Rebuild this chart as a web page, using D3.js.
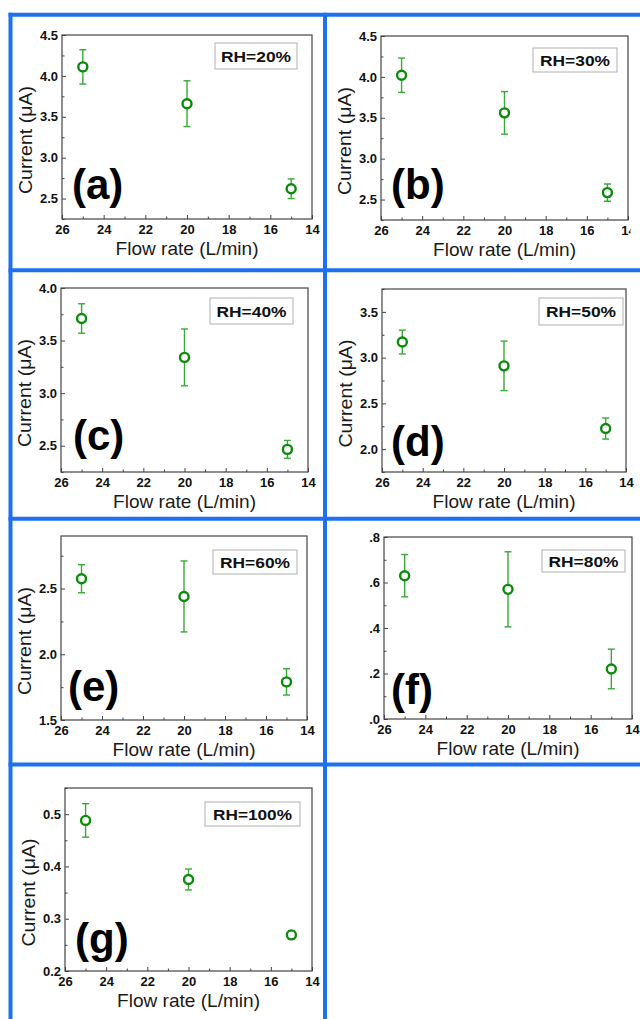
<!DOCTYPE html>
<html><head><meta charset="utf-8">
<script src="https://cdn.jsdelivr.net/npm/d3@7"></script>
<style>html,body{margin:0;padding:0;background:#fff;} svg{display:block;}</style>
</head><body>
<svg id="chart" width="640" height="1019"></svg>
<script>
// ---------------- data ----------------
const flowRate = [25, 20, 15];
const xTicks = [26, 24, 22, 20, 18, 16, 14];
const xMinorTicks = [25, 23, 21, 19, 17, 15];
const panelTags = ["(a)", "(b)", "(c)", "(d)", "(e)", "(f)", "(g)"];
const rhLabels = ["RH=20%", "RH=30%", "RH=40%", "RH=50%", "RH=60%", "RH=80%", "RH=100%"];

const currentA = [4.11, 3.66, 2.62];   const errorA = [0.21, 0.28, 0.12];
const currentB = [4.02, 3.56, 2.585];  const errorB = [0.21, 0.26, 0.105];
const currentC = [3.71, 3.34, 2.465];  const errorC = [0.14, 0.27, 0.085];
const currentD = [3.17, 2.91, 2.225];  const errorD = [0.13, 0.27, 0.115];
const currentE = [2.575, 2.44, 1.79];  const errorE = [0.107, 0.27, 0.10];
const currentF = [0.63, 0.57, 0.22];   const errorF = [0.093, 0.165, 0.087];
const currentG = [0.488, 0.375, 0.269]; const errorG = [0.032, 0.02, 0.008];

const yTicksA = [2.5, 3.0, 3.5, 4.0, 4.5];
const yTicksB = [2.5, 3.0, 3.5, 4.0, 4.5];
const yTicksC = [2.5, 3.0, 3.5, 4.0];
const yTicksD = [2.0, 2.5, 3.0, 3.5];
const yTicksE = [1.5, 2.0, 2.5];
const yTicksF = [0.0, 0.2, 0.4, 0.6, 0.8];
const yTickLabelsF = [".0", ".2", ".4", ".6", ".8"];
const yTicksG = [0.2, 0.3, 0.4, 0.5];

const xTitle = "Flow rate (L/min)";
const yTitle = "Current (\u03BCA)";

// ---------------- layout ----------------
const BLUE = "#1e70f0";
const GREEN = "#0b8a0b";
const ERRGREEN = "#3aa83a";
const FONT = "Arial, 'Liberation Sans', Helvetica, sans-serif";

const panels = [
  {cur: currentA, err: errorA, yt: yTicksA, frame: [62, 35, 312, 219], yDomain: [2.25, 4.5], minor: 0.25, legend: [215, 43, 82, 26], tag: [72, 199], yTitle: true, clipRight: null},
  {cur: currentB, err: errorB, yt: yTicksB, frame: [381, 36, 628, 220], yDomain: [2.25, 4.5], minor: 0.25, legend: [533, 48, 84, 24], tag: [391, 199], yTitle: true, clipRight: 630.5},
  {cur: currentC, err: errorC, yt: yTicksC, frame: [61, 288, 308, 472], yDomain: [2.25, 4.0], minor: 0.25, legend: [210, 298, 83, 26], tag: [73, 450], yTitle: true, clipRight: null},
  {cur: currentD, err: errorD, yt: yTicksD, frame: [382, 289, 626, 472], yDomain: [1.75, 3.75], minor: 0.25, legend: [539, 298, 84, 27], tag: [391, 456], yTitle: true, clipRight: null},
  {cur: currentE, err: errorE, yt: yTicksE, frame: [61, 536, 307, 720], yDomain: [1.5, 2.9], minor: 0.25, legend: [213, 550, 84, 24], tag: [68, 701], yTitle: true, clipRight: null},
  {cur: currentF, err: errorF, yt: yTicksF, ytl: yTickLabelsF, frame: [384, 537, 632, 719], yDomain: [0, 0.8], minor: 0.1, legend: [542, 550, 83, 22], tag: [391, 704], yTitle: false, clipRight: null},
  {cur: currentG, err: errorG, yt: yTicksG, frame: [65, 788, 312, 971], yDomain: [0.2, 0.55], minor: 0.05, legend: [205, 802, 95, 24], tag: [75, 953], yTitle: true, clipRight: null}
];

const svg = d3.select("#chart");
svg.append("rect").attr("width", 640).attr("height", 1019).attr("fill", "#fff");

const defs = svg.append("defs");

panels.forEach((p, i) => {
  const [x0, y0, x1, y1] = p.frame;
  let g = svg.append("g").attr("class", "panel");
  if (p.clipRight) {
    defs.append("clipPath").attr("id", "clip" + i)
      .append("rect").attr("x", 0).attr("y", 0).attr("width", p.clipRight).attr("height", 1019);
    g.attr("clip-path", `url(#clip${i})`);
  }
  const x = d3.scaleLinear().domain([26, 14]).range([x0, x1]);
  const y = d3.scaleLinear().domain(p.yDomain).range([y1, y0]);

  // frame
  g.append("rect").attr("x", x0).attr("y", y0).attr("width", x1 - x0).attr("height", y1 - y0)
    .attr("fill", "none").attr("stroke", "#444").attr("stroke-width", 1.2);

  // x axis major
  const xa = g.append("g").attr("transform", `translate(0,${y1})`)
    .call(d3.axisBottom(x).tickValues(xTicks).tickSizeInner(-4).tickSizeOuter(0).tickPadding(5.5).tickFormat(d3.format("d")));
  const xm = g.append("g").attr("transform", `translate(0,${y1})`)
    .call(d3.axisBottom(x).tickValues(xMinorTicks).tickSizeInner(-2.5).tickSizeOuter(0).tickFormat(""));
  // y axis
  const fmt = p.ytl ? (d => p.ytl[p.yt.indexOf(d)]) : d3.format(".1f");
  const ya = g.append("g").attr("transform", `translate(${x0},0)`)
    .call(d3.axisLeft(y).tickValues(p.yt).tickSizeInner(-4).tickSizeOuter(0).tickPadding(4).tickFormat(fmt));
  const minorVals = d3.range(Math.ceil(p.yDomain[0] / p.minor - 1e-6) * p.minor, p.yDomain[1] + 1e-9, p.minor)
    .filter(v => !p.yt.some(t => Math.abs(t - v) < 1e-6));
  const ym = g.append("g").attr("transform", `translate(${x0},0)`)
    .call(d3.axisLeft(y).tickValues(minorVals).tickSizeInner(-2.5).tickSizeOuter(0).tickFormat(""));

  [xa, xm, ya, ym].forEach(a => {
    a.select(".domain").remove();
    a.selectAll("line").attr("stroke", "#444").attr("stroke-width", 1);
    a.selectAll("text").attr("font-family", FONT).attr("font-size", 13).attr("font-weight", "bold").attr("fill", "#111");
  });

  // titles
  g.append("text").attr("x", (x0 + x1) / 2).attr("y", y1 + 35.5)
    .attr("text-anchor", "middle").attr("font-family", FONT).attr("font-size", 19).attr("fill", "#1a1a1a")
    .attr("textLength", 143).attr("lengthAdjust", "spacingAndGlyphs")
    .text(xTitle);
  if (p.yTitle) {
    const cy = (y0 + y1) / 2 + 13;
    g.append("text").attr("transform", `translate(${x0 - 30},${cy}) rotate(-90)`)
      .attr("text-anchor", "middle").attr("font-family", FONT).attr("font-size", 19).attr("fill", "#1a1a1a")
      .attr("textLength", 108).attr("lengthAdjust", "spacingAndGlyphs")
      .text(yTitle);
  }

  // legend box
  const [lx, ly, lw, lh] = p.legend;
  g.append("rect").attr("x", lx).attr("y", ly).attr("width", lw).attr("height", lh)
    .attr("fill", "#fff").attr("stroke", "#b0b0b0").attr("stroke-width", 1);
  const rhW = rhLabels[i].length > 6 ? 79 : 70;
  g.append("text").attr("x", lx + lw / 2).attr("y", ly + lh / 2 + 5.5)
    .attr("text-anchor", "middle").attr("font-family", FONT).attr("font-size", 15).attr("font-weight", "bold").attr("fill", "#111")
    .attr("textLength", rhW).attr("lengthAdjust", "spacingAndGlyphs")
    .text(rhLabels[i]);

  // panel tag
  g.append("text").attr("x", p.tag[0]).attr("y", p.tag[1])
    .attr("font-family", FONT).attr("font-size", 42).attr("font-weight", "bold").attr("fill", "#000")
    .text(panelTags[i]);

  // error bars
  const pts = flowRate.map((f, k) => ({f, v: p.cur[k], e: p.err[k]}));
  const eb = g.append("g").attr("stroke", ERRGREEN).attr("stroke-width", 1.4).attr("fill", "none");
  pts.forEach(d => {
    const cx = x(d.f);
    eb.append("line").attr("x1", cx).attr("x2", cx).attr("y1", y(d.v - d.e)).attr("y2", y(d.v + d.e));
    eb.append("line").attr("x1", cx - 3.5).attr("x2", cx + 3.5).attr("y1", y(d.v + d.e)).attr("y2", y(d.v + d.e));
    eb.append("line").attr("x1", cx - 3.5).attr("x2", cx + 3.5).attr("y1", y(d.v - d.e)).attr("y2", y(d.v - d.e));
  });
  g.append("g").selectAll("circle").data(pts).join("circle")
    .attr("cx", d => x(d.f)).attr("cy", d => y(d.v)).attr("r", 4.5)
    .attr("fill", "#fff").attr("stroke", GREEN).attr("stroke-width", 2.4);
});

// blue panel grid
const grid = svg.append("g").attr("stroke", BLUE).attr("stroke-width", 4).attr("fill", "none");
[14.7, 270.3, 518.7, 764.5].forEach(yy => grid.append("line").attr("x1", 8.5).attr("x2", 640).attr("y1", yy).attr("y2", yy));
[10.5, 325].forEach(xx => grid.append("line").attr("x1", xx).attr("x2", xx).attr("y1", 12.7).attr("y2", 1019));
</script>
</body></html>
